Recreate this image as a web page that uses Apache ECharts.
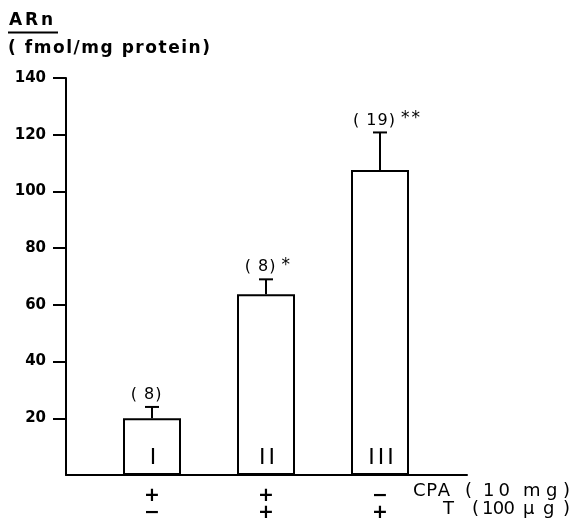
<!DOCTYPE html>
<html><head><meta charset="utf-8">
<script src="https://cdn.jsdelivr.net/npm/echarts@6/dist/echarts.min.js"></script>
<style>html,body{margin:0;padding:0;background:#fff}#c{width:572px;height:525px}</style>
</head><body><div id="c"></div>
<script>
const groups = ['I', 'II', 'III'];
const cpa = ['+', '+', '\u2212'];
const testo = ['\u2212', '+', '+'];
const means = [20, 63.7, 107.6];
const sem = [4, 5.3, 13.2];
const nCounts = [8, 8, 19];
const stars = ['', '*', '**'];
const yTickValues = [20, 40, 60, 80, 100, 120, 140];
const yMin = 0, yMax = 140;

const FF = '"DejaVu Sans"';
const ctx = document.createElement('canvas').getContext('2d');
function measure(s, font) { ctx.font = font; return ctx.measureText(s).width; }
function spaced(str, x, yc, font, spacing, align) {
  const chars = Array.from(str);
  const ws = chars.map(c => measure(c, font));
  const total = ws.reduce((a, b) => a + b, 0) + spacing * (chars.length - 1);
  let cx = align === 'center' ? x - total / 2 : align === 'right' ? x - total : x;
  const out = [];
  chars.forEach((c, i) => {
    if (c !== ' ') out.push({ type: 'text', x: cx, y: yc,
      style: { text: c, font: font, fill: '#000', textAlign: 'left', textVerticalAlign: 'middle' } });
    cx += ws[i] + spacing;
  });
  out.total = total;
  return out;
}
function fitted(str, x0, x1, yc, font) {
  const chars = Array.from(str);
  if (chars.length < 2) return spaced(str, x0, yc, font, 0, 'left');
  const nat = chars.map(c => measure(c, font)).reduce((a, b) => a + b, 0);
  const sp = (x1 - x0 - nat) / (chars.length - 1);
  return spaced(str, x0, yc, font, sp, 'left');
}
function row(tokens, yc, font) {
  return tokens.flatMap(t => fitted(t[0], t[1], t[2], yc, font));
}

const chart = echarts.init(document.getElementById('c'));
chart.setOption({
  animation: false,
  backgroundColor: '#fff',
  grid: [
    { left: 95, width: 342, top: 78, height: 397 },
    { left: 66, width: 401, top: 78, height: 397 }
  ],
  xAxis: [
    { type: 'category', gridIndex: 0, data: groups.map((g, i) => cpa[i] + '\n' + testo[i]),
      axisLine: { show: false }, axisTick: { show: false },
      axisLabel: { fontFamily: FF, fontWeight: 'bold', fontSize: 19, color: '#000', margin: 13, lineHeight: 17 } },
    { type: 'value', gridIndex: 1, min: 0, max: 1,
      axisLine: { show: true, lineStyle: { color: '#000', width: 2 } },
      axisTick: { show: false }, axisLabel: { show: false }, splitLine: { show: false } }
  ],
  yAxis: [
    { type: 'value', gridIndex: 0, min: yMin, max: yMax, show: false, splitLine: { show: false } },
    { type: 'value', gridIndex: 1, min: yMin, max: yMax, interval: 20,
      axisLine: { show: true, lineStyle: { color: '#000', width: 2 } },
      axisTick: { show: true, inside: false, length: 13, customValues: yTickValues, lineStyle: { color: '#000', width: 2 } },
      axisLabel: { fontFamily: FF, fontWeight: 'bold', fontSize: 15, color: '#000', margin: 20, customValues: yTickValues },
      splitLine: { show: false } }
  ],
  series: [
    { type: 'bar', xAxisIndex: 0, yAxisIndex: 0, data: means, barWidth: 58,
      itemStyle: { color: '#fff', borderColor: '#000', borderWidth: 2 } },
    { type: 'custom', xAxisIndex: 0, yAxisIndex: 0, z: 5,
      data: means.map((m, i) => [i, m, m + sem[i]]),
      renderItem: (params, api) => {
        const i = params.dataIndex;
        const base = api.coord([api.value(0), 0]);
        const lo = api.coord([api.value(0), api.value(1)]);
        const hi = api.coord([api.value(0), api.value(2)]);
        const cap = 7;
        const st = { stroke: '#000', lineWidth: 2 };
        const f16 = '16px ' + FF;
        const cx = hi[0] - 6, cy = hi[1] - 12;
        const nTxt = spaced('( ' + nCounts[i] + ')', cx, cy, f16, 1, 'center');
        const children = [
          { type: 'line', shape: { x1: lo[0], y1: lo[1], x2: hi[0], y2: hi[1] }, style: st },
          { type: 'line', shape: { x1: hi[0] - cap, y1: hi[1], x2: hi[0] + cap, y2: hi[1] }, style: st }
        ].concat(nTxt);
        if (stars[i]) children.push(...spaced(stars[i], cx + nTxt.total / 2 + 6, cy - 2, '17px ' + FF, 2, 'left'));
        children.push(...spaced(groups[i], base[0] + 1, base[1] - 17, '22px ' + FF, 3, 'center'));
        return { type: 'group', children };
      } }
  ],
  graphic: [
    ...fitted('ARn', 9, 53, 21, 'bold 17px ' + FF),
    { type: 'line', shape: { x1: 8, y1: 32.5, x2: 58, y2: 32.5 }, style: { stroke: '#000', lineWidth: 2 } },
    ...fitted('( fmol/mg protein)', 8, 210, 49, 'bold 17px ' + FF),
    ...row([['CPA', 413, 450], ['(', 465, 470], ['10', 483, 510], ['mg)', 523, 570]], 491, '18px ' + FF),
    ...row([['T', 443, 455], ['(', 472, 477], ['100', 482, 515], ['\u03bcg)', 523, 570]], 509, '18px ' + FF)
  ]
});
</script></body></html>
